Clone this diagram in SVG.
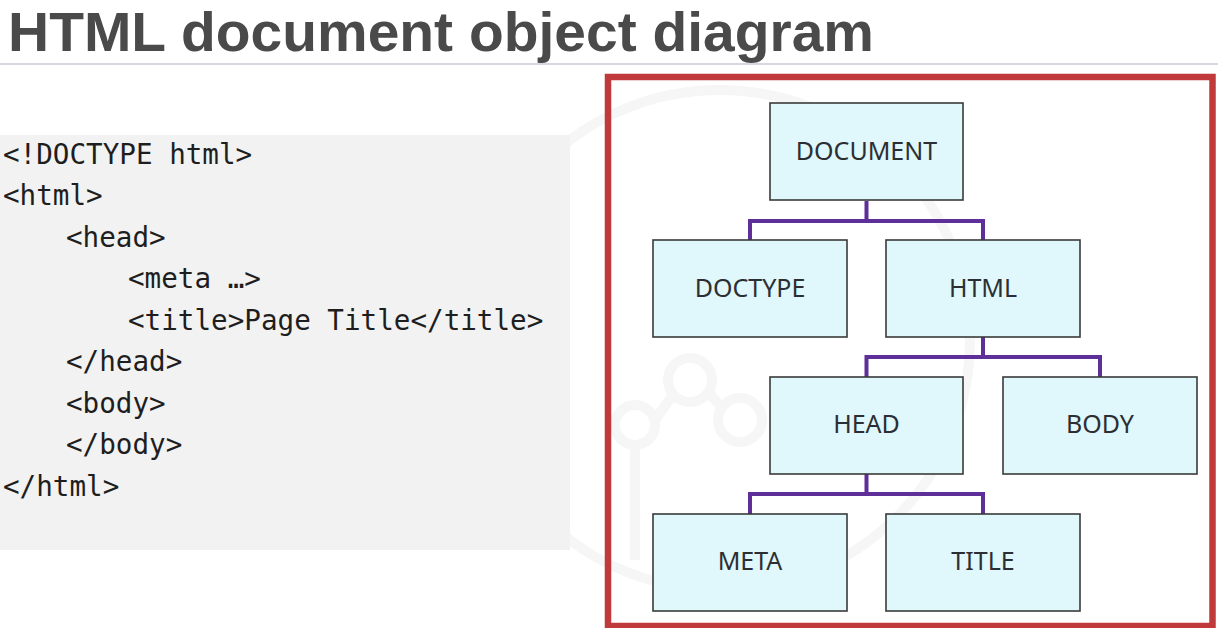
<svg xmlns="http://www.w3.org/2000/svg" width="1218" height="628" viewBox="0 0 1218 628">
  <style>
    .title { font-family: "Liberation Sans", "Noto Sans", sans-serif; font-weight: 700; font-size: 56px; fill: #4a4a4a; }
    .code { font-family: "DejaVu Sans Mono", "Liberation Mono", monospace; font-size: 27.6px; fill: #1e1e1e; }
    .box { fill: #e0f7fb; stroke: #3a3a3a; stroke-width: 1.6; }
    .label { font-family: "Noto Sans", "Liberation Sans", sans-serif; font-size: 25px; fill: #2b2f33; text-anchor: middle; dominant-baseline: central; }
    .link { fill: none; stroke: #5e2e99; stroke-width: 4; stroke-linejoin: miter; }
    .wm { fill: none; stroke: #f6f6f6; stroke-width: 10; }
  </style>

  <rect width="1218" height="628" fill="#ffffff"/>

  <!-- faint background watermark -->
  <g id="watermark">
    <circle class="wm" cx="720" cy="340" r="250"/>
    <circle class="wm" cx="690" cy="380" r="22" stroke-width="7"/>
    <circle class="wm" cx="740" cy="420" r="22" stroke-width="7"/>
    <circle class="wm" cx="635" cy="425" r="20" stroke-width="7"/>
    <path class="wm" stroke-width="7" d="M635 445 V560 M655 420 L672 396 M708 392 L722 408"/>
  </g>

  <!-- heading -->
  <text class="title" x="8" y="51" textLength="866" lengthAdjust="spacingAndGlyphs">HTML document object diagram</text>
  <line x1="0" y1="64" x2="1218" y2="64" stroke="#d6d6e4" stroke-width="2"/>

  <!-- source listing -->
  <g id="code">
    <rect x="0" y="135" width="570" height="415" fill="#f2f2f2"/>
    <text class="code" x="3" y="164">&lt;!DOCTYPE html&gt;</text>
    <text class="code" x="3" y="205">&lt;html&gt;</text>
    <text class="code" x="66" y="247">&lt;head&gt;</text>
    <text class="code" x="128" y="288">&lt;meta …&gt;</text>
    <text class="code" x="128" y="330">&lt;title&gt;Page Title&lt;/title&gt;</text>
    <text class="code" x="66" y="371">&lt;/head&gt;</text>
    <text class="code" x="66" y="413">&lt;body&gt;</text>
    <text class="code" x="66" y="454">&lt;/body&gt;</text>
    <text class="code" x="3" y="496">&lt;/html&gt;</text>
  </g>

  <!-- frame around the tree -->
  <rect x="608" y="77" width="604.5" height="549" fill="none" stroke="#c0393b" stroke-width="6.5"/>

  <!-- connectors -->
  <g id="connectors">
    <path class="link" d="M866.5 201 V221 M750 241 V221 H983 V241"/>
    <path class="link" d="M983 337 V357 M866.5 377 V357 H1100 V377"/>
    <path class="link" d="M866.5 474 V494 M750 514 V494 H983 V514"/>
  </g>

  <!-- nodes -->
  <g id="node-document">
    <rect class="box" x="770" y="103" width="193" height="97"/>
    <text class="label" x="866.5" y="150">DOCUMENT</text>
  </g>
  <g id="node-doctype">
    <rect class="box" x="653" y="240" width="194" height="97"/>
    <text class="label" x="750" y="287">DOCTYPE</text>
  </g>
  <g id="node-html">
    <rect class="box" x="886" y="240" width="194" height="97"/>
    <text class="label" x="983" y="287">HTML</text>
  </g>
  <g id="node-head">
    <rect class="box" x="770" y="377" width="193" height="97"/>
    <text class="label" x="866.5" y="423">HEAD</text>
  </g>
  <g id="node-body">
    <rect class="box" x="1003" y="377" width="194" height="97"/>
    <text class="label" x="1100" y="423">BODY</text>
  </g>
  <g id="node-meta">
    <rect class="box" x="653" y="514" width="194" height="97"/>
    <text class="label" x="750" y="560">META</text>
  </g>
  <g id="node-title">
    <rect class="box" x="886" y="514" width="194" height="97"/>
    <text class="label" x="983" y="560">TITLE</text>
  </g>
</svg>
